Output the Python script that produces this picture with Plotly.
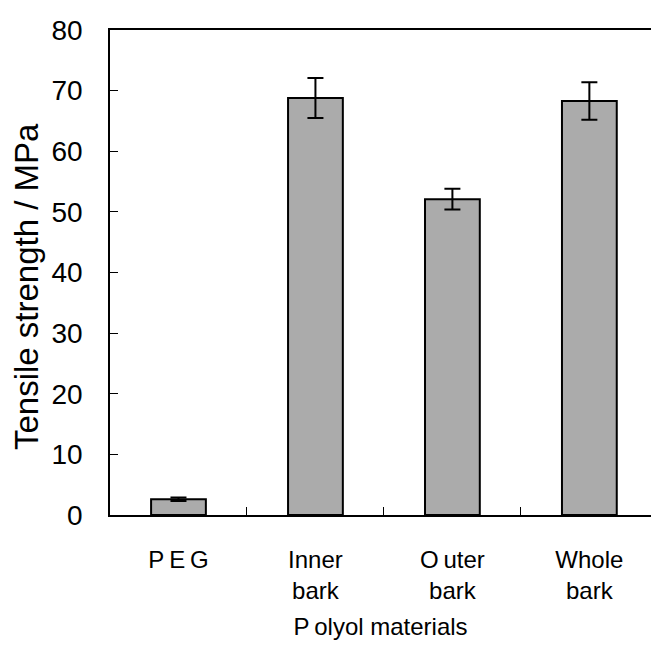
import plotly.graph_objects as go

categories = ["P\u2009E\u2009G", "Inner<br>bark", "O\u2009uter<br>bark", "Whole<br>bark"]
strength = [2.6, 68.8, 52.1, 68.3]
errors = [0.3, 3.3, 1.7, 3.1]
y_ticks = [0, 10, 20, 30, 40, 50, 60, 70, 80]
y_title = "Tensile strength / MPa"
x_title = "P\u2009olyol materials"

fig = go.Figure()
fig.add_trace(go.Bar(
    x=categories, y=strength, width=0.4,
    marker=dict(color="#ababab", line=dict(color="black", width=2)),
    error_y=dict(type="data", array=errors, color="black", thickness=2, width=8),
))

fig.update_layout(
    width=651, height=652,
    margin=dict(l=110, r=0, t=30, b=137),
    paper_bgcolor="white", plot_bgcolor="white",
    showlegend=False,
    font=dict(family="Liberation Sans, Arial", color="black"),
)
fig.add_annotation(
    text=y_title, textangle=-90, showarrow=False,
    xref="paper", yref="paper", x=0, y=0.47, xanchor="center", yanchor="middle",
    xshift=-84, font=dict(size=33),
)
fig.update_yaxes(
    range=[0, 80], tickvals=y_ticks, ticks="inside", ticklen=8, tickwidth=1,
    tickcolor="black", showline=True, linecolor="black", linewidth=1.5,
    showgrid=False, zeroline=False,
    tickfont=dict(size=28),
    ticklabelstandoff=20,
)
fig.update_xaxes(
    range=[-0.5, 3.45], ticks="inside", tickson="boundaries", ticklen=8,
    tickcolor="black", showline=True, linecolor="black", linewidth=1.5,
    mirror=True, showgrid=False,
    tickfont=dict(size=24, family="Liberation Sans"),
    ticklabelstandoff=22,
    title=dict(text=x_title, font=dict(size=24, family="Liberation Sans"), standoff=15),
)

fig.write_html("out.html")
